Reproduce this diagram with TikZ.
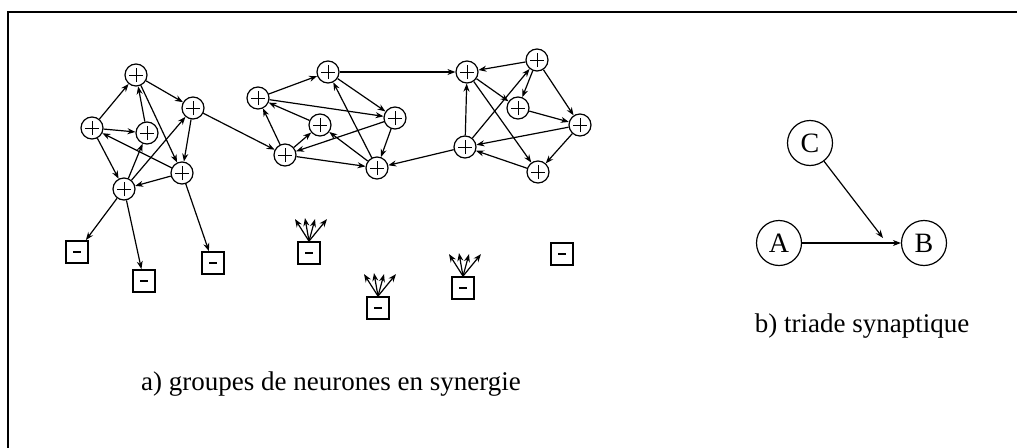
\documentclass[tikz,border=0pt]{standalone}
\usepackage{fontspec}
\setmainfont{Liberation Serif}
\usetikzlibrary{arrows.meta,calc}
\begin{document}
\begin{tikzpicture}[x=1pt,y=-1pt,
  plusnode/.style={circle,draw,line width=1.2pt,minimum size=22pt,inner sep=0pt,
    path picture={\draw[line width=0.9pt]
      ([xshift=-7pt]path picture bounding box.center) -- ([xshift=7pt]path picture bounding box.center)
      ([yshift=-7pt]path picture bounding box.center) -- ([yshift=7pt]path picture bounding box.center);}},
  minusbox/.style={rectangle,draw,line width=1.8pt,minimum size=22pt,inner sep=0pt,
    path picture={\draw[line width=2pt]
      ([xshift=-4pt]path picture bounding box.center) -- ([xshift=4pt]path picture bounding box.center);}},
  bignode/.style={circle,draw,line width=1.2pt,minimum size=45pt,inner sep=0pt,font=\fontsize{28}{30}\selectfont},
  arr/.style={line width=1.2pt,-{Stealth[length=8pt,width=6pt]}},
  lbl/.style={font=\fontsize{27}{30}\selectfont}
]
\useasboundingbox (0,0) rectangle (1017,447);
\draw[line width=2.5pt] (8,460) -- (8,12) -- (1030,12);

% cluster 1
\node[plusnode] (n1) at (136,75) {};
\node[plusnode] (n2) at (193,108) {};
\node[plusnode] (n3) at (92,128) {};
\node[plusnode] (n4) at (147,133) {};
\node[plusnode] (n5) at (182,173) {};
\node[plusnode] (n6) at (124,189) {};
% cluster 2
\node[plusnode] (m1) at (328,72) {};
\node[plusnode] (m2) at (258,98) {};
\node[plusnode] (m3) at (320,125) {};
\node[plusnode] (m4) at (395,118) {};
\node[plusnode] (m5) at (285,155) {};
\node[plusnode] (m6) at (377,168) {};
% cluster 3
\node[plusnode] (k1) at (467,72) {};
\node[plusnode] (k2) at (537,60) {};
\node[plusnode] (k3) at (518,108) {};
\node[plusnode] (k4) at (580,125) {};
\node[plusnode] (k5) at (465,147) {};
\node[plusnode] (k6) at (538,172) {};
% boxes
\node[minusbox] (b1) at (77,252) {};
\node[minusbox] (b2) at (144,281) {};
\node[minusbox] (b3) at (213,263) {};
\node[minusbox] (b4) at (309,253) {};
\node[minusbox] (b5) at (378,308) {};
\node[minusbox] (b6) at (463,288) {};
\node[minusbox] (b7) at (562,254) {};

% cluster 1 edges
\foreach \s/\t in {n3/n1,n3/n4,n3/n6,n4/n1,n1/n2,n1/n5,n2/n5,n5/n3,n5/n6,n6/n4,n6/n2,
  n2/m5,n6/b1,n6/b2,n5/b3,
  m2/m1,m2/m4,m3/m2,m5/m2,m5/m3,m1/m4,m4/m6,m4/m5,m6/m1,m6/m3,m5/m6,m1/k1,k5/m6,
  k2/k1,k1/k3,k1/k6,k2/k3,k2/k4,k3/k4,k4/k5,k4/k6,k6/k5,k5/k1,k5/k2}
  \draw[arr] (\s) -- (\t);

% fans
\foreach \b in {b4,b5,b6}{
  \coordinate (\b f1) at ($(\b.north)+(-14,-22)$);
  \coordinate (\b f2) at ($(\b.north)+(-4,-23)$);
  \coordinate (\b f3) at ($(\b.north)+(6,-22)$);
  \coordinate (\b f4) at ($(\b.north)+(18,-22)$);
  \foreach \i in {1,2,3,4} \draw[arr] (\b.north) -- (\b f\i);
}

% triad
\node[bignode] (C) at (810,143) {C};
\node[bignode] (A) at (779,243) {A};
\node[bignode] (B) at (924,243) {B};
\coordinate (cend) at (883,238);
\draw[arr] (A) -- (B);
\draw[arr] (C) -- (cend);

\node[lbl] (lb) at (862,326) {b) triade synaptique};
\node[lbl] (la) at (331,384) {a) groupes de neurones en synergie};
\end{tikzpicture}
\end{document}
